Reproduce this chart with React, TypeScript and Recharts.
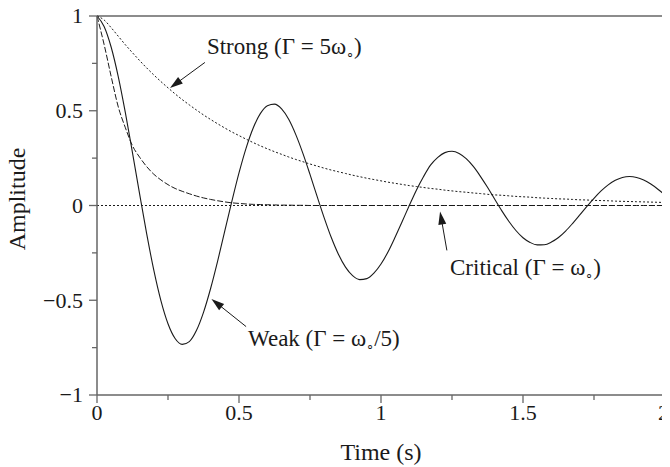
import { LineChart, Line, XAxis, YAxis, ReferenceLine, ReferenceDot, Label } from 'recharts';

const time = [
  0, 0.025, 0.05, 0.075, 0.1, 0.125, 0.15, 0.175, 0.2, 0.225, 0.25, 0.275, 0.3, 0.325, 0.35, 0.375, 0.4,
  0.425, 0.45, 0.475, 0.5, 0.525, 0.55, 0.575, 0.6, 0.625, 0.65, 0.675, 0.7, 0.725, 0.75, 0.775, 0.8,
  0.825, 0.85, 0.875, 0.9, 0.925, 0.95, 0.975, 1, 1.025, 1.05, 1.075, 1.1, 1.125, 1.15, 1.175, 1.2,
  1.225, 1.25, 1.275, 1.3, 1.325, 1.35, 1.375, 1.4, 1.425, 1.45, 1.475, 1.5, 1.525, 1.55, 1.575, 1.6,
  1.625, 1.65, 1.675, 1.7, 1.725, 1.75, 1.775, 1.8, 1.825, 1.85, 1.875, 1.9, 1.925, 1.95, 1.975, 2,
];

const weak = [
  1, 0.945, 0.835, 0.679, 0.489, 0.278, 0.061, -0.15, -0.341, -0.502, -0.624, -0.702, -0.733, -0.718, -0.66, -0.564, -0.438,
  -0.292, -0.134, 0.023, 0.172, 0.303, 0.409, 0.485, 0.527, 0.535, 0.51, 0.455, 0.374, 0.275, 0.164, 0.048, -0.065,
  -0.169, -0.257, -0.325, -0.37, -0.391, -0.386, -0.357, -0.309, -0.244, -0.166, -0.083, 0.001, 0.082, 0.153, 0.214, 0.254,
  0.279, 0.286, 0.275, 0.247, 0.206, 0.154, 0.096, 0.034, -0.027, -0.083, -0.132, -0.17, -0.195, -0.208, -0.207, -0.193,
  -0.169, -0.135, -0.094, -0.05, -0.005, 0.038, 0.077, 0.109, 0.133, 0.148, 0.153, 0.148, 0.134, 0.113, 0.086, 0.055,
];

const critical = [
  1, 0.85, 0.68, 0.52, 0.41, 0.315, 0.255, 0.205, 0.165, 0.135, 0.11, 0.09, 0.075, 0.062, 0.05, 0.04, 0.032,
  0.025, 0.019, 0.014, 0.011, 0.008, 0.006, 0.005, 0.004, 0.003, 0.002, 0.002, 0.001, 0.001, 0, 0, 0,
  0, 0, 0, 0, 0, 0, 0, 0, 0, 0, 0, 0, 0, 0, 0, 0,
  0, 0, 0, 0, 0, 0, 0, 0, 0, 0, 0, 0, 0, 0, 0, 0,
  0, 0, 0, 0, 0, 0, 0, 0, 0, 0, 0, 0, 0, 0, 0, 0,
];

const strong = [
  1, 0.979, 0.938, 0.893, 0.848, 0.806, 0.765, 0.726, 0.689, 0.654, 0.621, 0.589, 0.559, 0.531, 0.504, 0.478, 0.454,
  0.431, 0.409, 0.388, 0.369, 0.35, 0.332, 0.315, 0.299, 0.284, 0.27, 0.256, 0.243, 0.231, 0.219, 0.208, 0.197,
  0.187, 0.178, 0.169, 0.16, 0.152, 0.144, 0.137, 0.13, 0.123, 0.117, 0.111, 0.105, 0.1, 0.095, 0.09, 0.086,
  0.081, 0.077, 0.073, 0.07, 0.066, 0.063, 0.059, 0.056, 0.054, 0.051, 0.048, 0.046, 0.044, 0.041, 0.039, 0.037,
  0.035, 0.034, 0.032, 0.03, 0.029, 0.027, 0.026, 0.025, 0.023, 0.022, 0.021, 0.02, 0.019, 0.018, 0.017, 0.016,
];

const xTicks = [0, 0.25, 0.5, 0.75, 1, 1.25, 1.5, 1.75, 2];
const yTicks = [-1, -0.75, -0.5, -0.25, 0, 0.25, 0.5, 0.75, 1];

const data = time.map((t, i) => ({ t, weak: weak[i], critical: critical[i], strong: strong[i] }));

const FONT = '"Liberation Serif", "Times New Roman", serif';
const AXIS = '#666';
const INK = '#1a1a1a';

const fmt = (v: number) => (v < 0 ? '\u2212' + Math.abs(v) : String(v));
const isMajor = (v: number) => Math.abs(v * 2 - Math.round(v * 2)) < 1e-6;

function XTick({ x, y, payload }: any) {
  const major = isMajor(payload.value);
  // the last label sits at the right edge, keep it inside
  const last = payload.value === 2;
  return (
    <g>
      <line x1={x} y1={y} x2={x} y2={y + (major ? 8 : 5)} stroke={AXIS} strokeWidth={1.3} />
      {major && (
        <text
          x={last ? x + 4 : x}
          y={y + 25}
          textAnchor={last ? 'end' : 'middle'}
          fontFamily={FONT}
          fontSize={22}
          fill={INK}
        >
          {fmt(payload.value)}
        </text>
      )}
    </g>
  );
}

function YTick({ x, y, payload }: any) {
  const major = isMajor(payload.value);
  return (
    <g>
      <line x1={x} y1={y} x2={x - (major ? 8 : 5)} y2={y} stroke={AXIS} strokeWidth={1.3} />
      {major && (
        <text x={x - 14} y={y} dy="0.34em" textAnchor="end" fontFamily={FONT} fontSize={22} fill={INK}>
          {fmt(payload.value)}
        </text>
      )}
    </g>
  );
}

function Arrow(props: any) {
  const { x1, y1, x2, y2 } = props;
  const dx = x2 - x1;
  const dy = y2 - y1;
  const len = Math.sqrt(dx * dx + dy * dy) || 1;
  const ux = dx / len;
  const uy = dy / len;
  const hl = 13;
  const hw = 4;
  const bx = x2 - ux * hl;
  const by = y2 - uy * hl;
  return (
    <g>
      <line x1={x1} y1={y1} x2={bx + ux * 2} y2={by + uy * 2} stroke={INK} strokeWidth={1} />
      <polygon
        points={`${x2},${y2} ${bx - uy * hw},${by + ux * hw} ${bx + uy * hw},${by - ux * hw}`}
        fill={INK}
      />
    </g>
  );
}

function Note({ cx, cy, text, sub }: any) {
  return (
    <text x={cx} y={cy} fontFamily={FONT} fontSize={23} fill={INK}>
      {text}
      <tspan>ω</tspan>
      <tspan fontSize={13} dy={4}>∘</tspan>
      <tspan dy={-4}>{sub}</tspan>
    </text>
  );
}

export default function App() {
  return (
    <div style={{ margin: '-8px 0 0 -8px' }}>
      <LineChart width={670} height={467} data={data} margin={{ top: 16, right: 5, bottom: 0, left: 0 }}>
        <XAxis
          dataKey="t"
          type="number"
          domain={[0, 2]}
          ticks={xTicks}
          interval={0}
          tickSize={0}
          tickMargin={0}
          tickLine={false}
          tick={<XTick />}
          height={72}
          axisLine={{ stroke: AXIS, strokeWidth: 1.5 }}
        >
          <Label
            content={({ viewBox }: any) => (
              <text
                x={viewBox.x + viewBox.width / 2}
                y={viewBox.y + 65}
                textAnchor="middle"
                fontFamily={FONT}
                fontSize={24}
                fill={INK}
              >
                Time (s)
              </text>
            )}
          />
        </XAxis>
        <YAxis
          type="number"
          domain={[-1, 1]}
          ticks={yTicks}
          interval={0}
          tickSize={0}
          tickMargin={0}
          tickLine={false}
          tick={<YTick />}
          width={97}
          axisLine={{ stroke: AXIS, strokeWidth: 1.5 }}
        >
          <Label
            content={() => (
              <text
                x={25}
                y={199}
                transform="rotate(-90, 25, 199)"
                textAnchor="middle"
                fontFamily={FONT}
                fontSize={24}
                fill={INK}
              >
                Amplitude
              </text>
            )}
          />
        </YAxis>
        <ReferenceLine y={1} stroke={AXIS} strokeWidth={1.5} />
        <ReferenceLine x={2} stroke={AXIS} strokeWidth={1.5} />
        <ReferenceLine y={0} stroke={INK} strokeWidth={1} strokeDasharray="2 2" />
        <Line dataKey="critical" type="monotone" stroke={INK} strokeWidth={1} strokeDasharray="6 2" dot={false} isAnimationActive={false} />
        <Line dataKey="strong" type="monotone" stroke={INK} strokeWidth={1} strokeDasharray="2 2" dot={false} isAnimationActive={false} />
        <Line dataKey="weak" type="monotone" stroke={INK} strokeWidth={1.1} dot={false} isAnimationActive={false} />
        <ReferenceLine segment={[{ x: 0.38, y: 0.755 }, { x: 0.257, y: 0.62 }]} shape={<Arrow />} />
        <ReferenceLine segment={[{ x: 1.232, y: -0.237 }, { x: 1.208, y: -0.032 }]} shape={<Arrow />} />
        <ReferenceLine segment={[{ x: 0.525, y: -0.639 }, { x: 0.403, y: -0.493 }]} shape={<Arrow />} />
        <ReferenceDot x={0.387} y={0.802} r={0} shape={(p: any) => <Note {...p} text="Strong (Γ = 5" sub=")" />} />
        <ReferenceDot x={1.243} y={-0.369} r={0} shape={(p: any) => <Note {...p} text="Critical (Γ = " sub=")" />} />
        <ReferenceDot x={0.532} y={-0.739} r={0} shape={(p: any) => <Note {...p} text="Weak (Γ = " sub="/5)" />} />
      </LineChart>
    </div>
  );
}
